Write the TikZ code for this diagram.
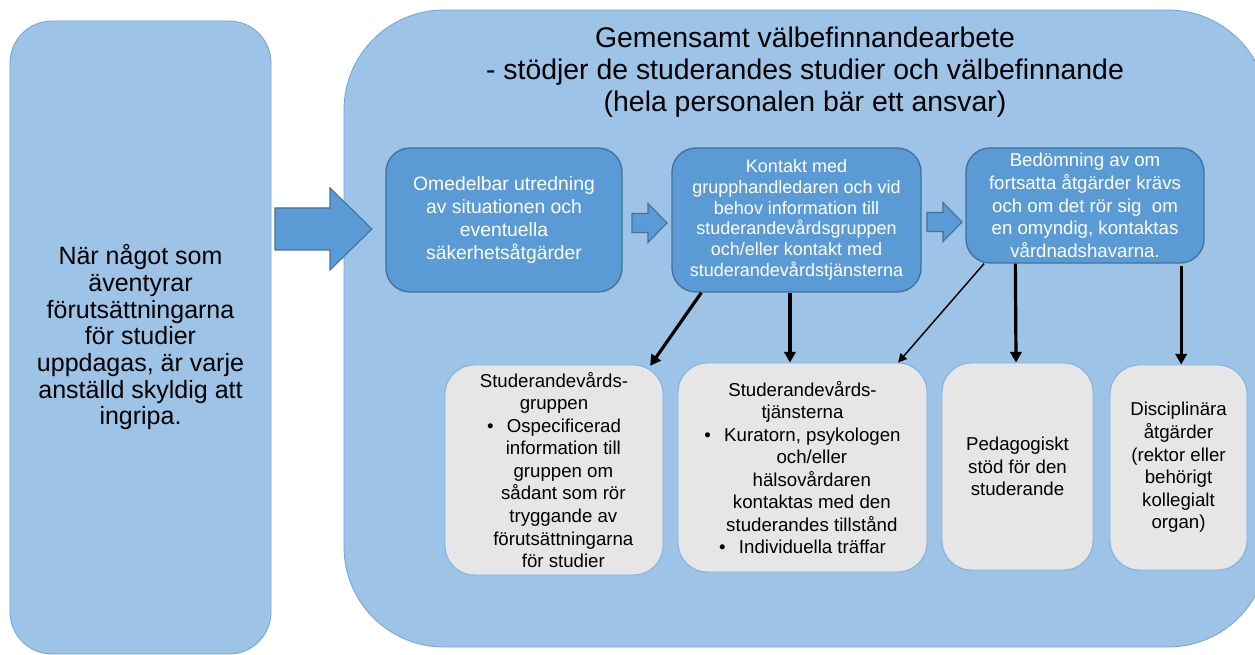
\documentclass[tikz,border=0pt]{standalone}
\usepackage{fontspec}
\setmainfont{Liberation Sans}
\usetikzlibrary{arrows.meta,calc}
\definecolor{bigfill}{HTML}{9DC3E6}
\definecolor{bigline}{HTML}{6FA4D8}
\definecolor{boxfill}{HTML}{5B9BD5}
\definecolor{boxline}{HTML}{41719C}
\definecolor{grayfill}{HTML}{E7E6E6}
\definecolor{grayline}{HTML}{7FB0DE}
\newcommand{\ind}{\hspace*{14pt}}
\tikzset{
  bigbox/.style={draw=bigline, line width=0.6pt, fill=bigfill, rectangle, inner sep=0pt},
  bluebox/.style={draw=boxline, line width=1pt, fill=boxfill, rectangle, rounded corners=18pt, inner sep=0pt, align=center, text=white},
  graybox/.style={draw=grayline, line width=0.7pt, fill=grayfill, rectangle, rounded corners=22pt, inner sep=0pt, align=center, text=black, font=\fontsize{14pt}{16.9pt}\selectfont},
  blockarrow/.style={draw=boxline, line width=0.8pt, fill=boxfill},
  thickarrow/.style={line width=2.4pt, -{Triangle[length=8pt,width=8.5pt]}},
  thinarrow/.style={line width=1.1pt, -{Triangle[length=6.5pt,width=6.5pt]}}
}
\begin{document}
\begin{tikzpicture}[x=0.75pt,y=-0.75pt]
\useasboundingbox (0,0) rectangle (1255,655);
\clip (0,0) rectangle (1255,655);
% left box
\node[bigbox, rounded corners=31.5pt, minimum width=195.75pt, minimum height=474.75pt,
      align=center, font=\fontsize{18.75pt}{20pt}\selectfont] (left) at (140.5,337.5)
  {När något som\\äventyrar\\förutsättningarna\\för studier\\uppdagas, är varje\\anställd skyldig att\\ingripa.};
% big box
\node[bigbox, rounded corners=75pt, minimum width=693pt, minimum height=477.75pt] (big) at (806,328.5) {};
\node[align=center, inner sep=0pt, font=\fontsize{21.3pt}{24pt}\selectfont] (title) at (805,72)
  {Gemensamt välbefinnandearbete\\- stödjer de studerandes studier och välbefinnande\\(hela personalen bär ett ansvar)};
% big block arrow
\draw[blockarrow] (275,208) -- (330,208) -- (330,188) -- (372,229) -- (330,270) -- (330,250) -- (275,250) -- cycle;
% blue boxes
\node[bluebox, minimum width=177pt, minimum height=108pt, font=\fontsize{14.5pt}{17.25pt}\selectfont] (b1) at (504,220)
  {Omedelbar utredning\\av situationen och\\eventuella\\säkerhetsåtgärder};
\node[bluebox, minimum width=186.75pt, minimum height=108pt, font=\fontsize{13.5pt}{15.5pt}\selectfont] (b2) at (796.5,220)
  {Kontakt med\\grupphandledaren och vid\\behov information till\\studerandevårdsgruppen\\och/eller kontakt med\\studerandevårdstjänsterna};
\node[bluebox, minimum width=178.5pt, minimum height=86.25pt, font=\fontsize{14pt}{17pt}\selectfont] (b3) at (1085,205.5)
  {Bedömning av om\\fortsatta åtgärder krävs\\och om det rör sig\ \ om\\en omyndig, kontaktas\\vårdnadshavarna.};
% small block arrows
\draw[blockarrow] (632,213.5) -- (648,213.5) -- (648,203.5) -- (667,223) -- (648,242.5) -- (648,232.5) -- (632,232.5) -- cycle;
\draw[blockarrow] (927,212.5) -- (943,212.5) -- (943,202.5) -- (962,222) -- (943,241.5) -- (943,231.5) -- (927,231.5) -- cycle;
% gray boxes
\node[graybox, minimum width=163.5pt, minimum height=157.5pt] (g1) at (554,470)
  {Studerandevårds-\\gruppen\\\textbullet\hspace{10pt}Ospecificerad\\\ind information till\\\ind gruppen om\\\ind sådant som rör\\\ind tryggande av\\\ind förutsättningarna\\\ind för studier};
\node[graybox, minimum width=186.75pt, minimum height=156.75pt] (g2) at (802.5,467.5)
  {Studerandevårds-\\tjänsterna\\\textbullet\hspace{10pt}Kuratorn, psykologen\\\ind och/eller\\\ind hälsovårdaren\\\ind kontaktas med den\\\ind studerandes tillstånd\\\textbullet\hspace{10pt}Individuella träffar};
\node[graybox, minimum width=113.25pt, minimum height=155.25pt] (g3) at (1017.5,466.5)
  {Pedagogiskt\\stöd för den\\studerande};
\node[graybox, minimum width=102.75pt, minimum height=153.75pt] (g4) at (1178.5,467.5)
  {Disciplinära\\åtgärder\\(rektor eller\\behörigt\\kollegialt\\organ)};
% connectors
\draw[thickarrow] ([xshift=22.5pt]b2.south west) -- ([xshift=-10pt,yshift=-1pt]g1.north east);
\draw[thickarrow] ([xshift=-4.9pt]b2.south) -- ([xshift=-9.4pt]g2.north);
\draw[thinarrow] ([xshift=14pt]b3.south west) -- ([xshift=-22pt]g2.north east);
\draw[thickarrow] ([xshift=37.5pt]b3.south west) -- ([xshift=-1.1pt]g3.north);
\draw[thickarrow] ([xshift=2pt,yshift=-2pt]g4.north |- b3.south) -- ([xshift=2pt]g4.north);
\end{tikzpicture}
\end{document}
